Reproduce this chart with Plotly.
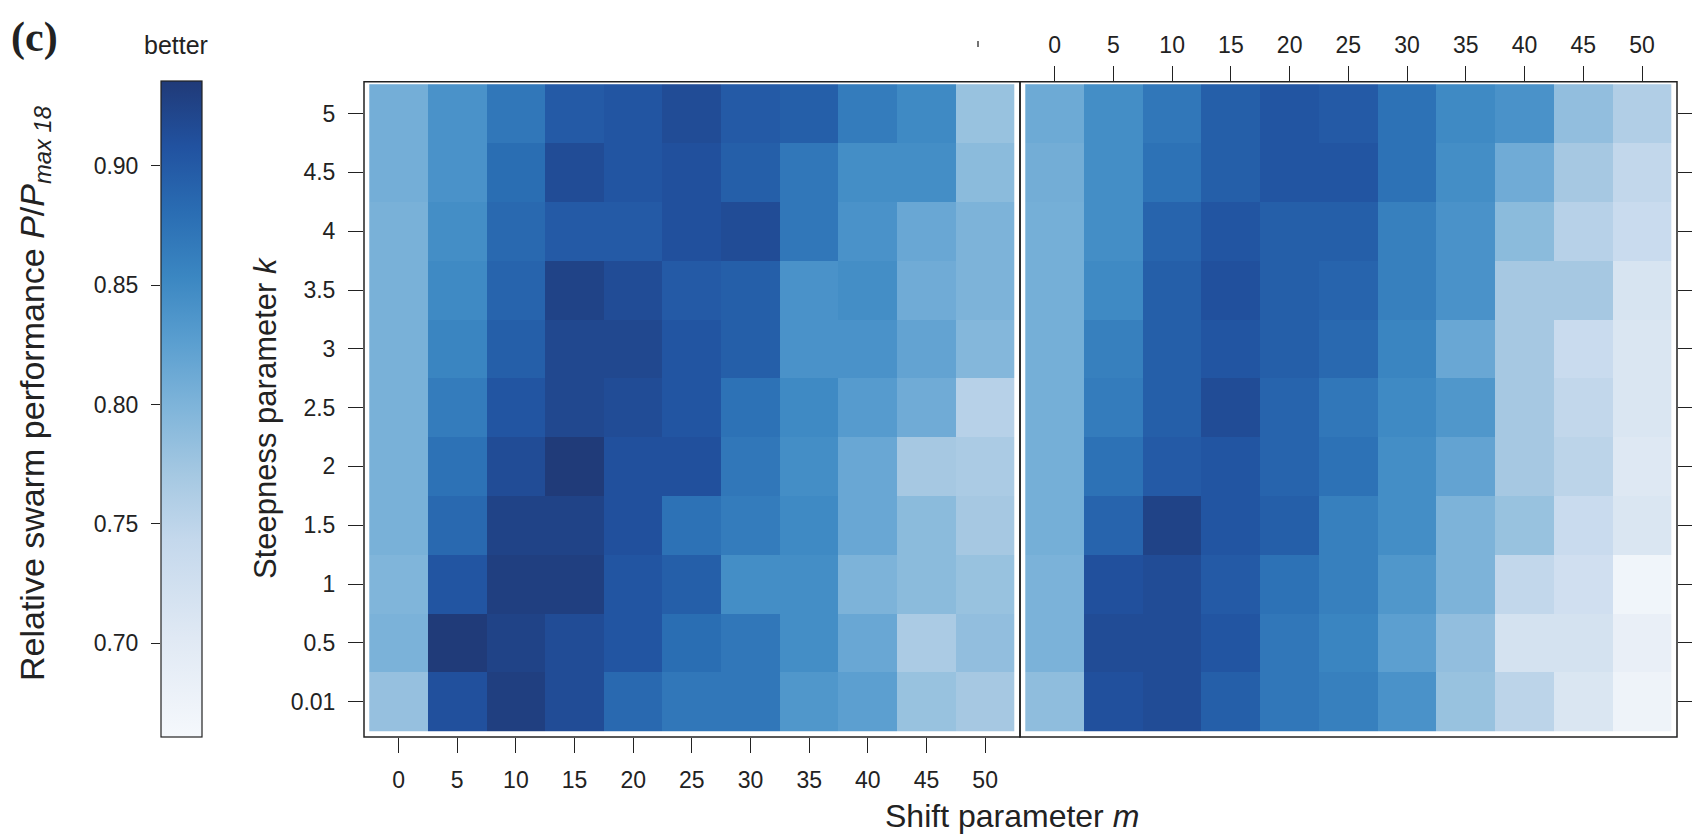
import plotly.graph_objects as go

W, H = 1692, 839

m_values = [0, 5, 10, 15, 20, 25, 30, 35, 40, 45, 50]
k_labels = ["0.01", "0.5", "1", "1.5", "2", "2.5", "3", "3.5", "4", "4.5", "5"]
k_index = list(range(len(k_labels)))

# rows: k = 0.01 (bottom) ... 5 (top); columns: m = 0 ... 50
left_k001 = [0.782, 0.910, 0.930, 0.915, 0.885, 0.870, 0.870, 0.835, 0.825, 0.780, 0.770]
left_k05  = [0.802, 0.935, 0.925, 0.915, 0.905, 0.880, 0.870, 0.845, 0.815, 0.765, 0.785]
left_k1   = [0.798, 0.905, 0.930, 0.930, 0.905, 0.895, 0.845, 0.845, 0.800, 0.790, 0.780]
left_k15  = [0.803, 0.885, 0.925, 0.925, 0.910, 0.875, 0.865, 0.850, 0.815, 0.790, 0.770]
left_k2   = [0.803, 0.875, 0.915, 0.935, 0.910, 0.910, 0.870, 0.845, 0.815, 0.770, 0.765]
left_k25  = [0.803, 0.865, 0.905, 0.920, 0.915, 0.905, 0.875, 0.850, 0.830, 0.810, 0.755]
left_k3   = [0.803, 0.855, 0.895, 0.920, 0.920, 0.905, 0.895, 0.840, 0.840, 0.820, 0.795]
left_k35  = [0.803, 0.850, 0.890, 0.925, 0.915, 0.900, 0.895, 0.840, 0.845, 0.810, 0.800]
left_k4   = [0.803, 0.845, 0.885, 0.900, 0.900, 0.910, 0.915, 0.870, 0.840, 0.815, 0.800]
left_k45  = [0.807, 0.840, 0.880, 0.915, 0.905, 0.910, 0.895, 0.870, 0.845, 0.845, 0.790]
left_k5   = [0.807, 0.840, 0.870, 0.900, 0.905, 0.915, 0.900, 0.895, 0.865, 0.850, 0.780]

right_k001 = [0.787, 0.910, 0.915, 0.895, 0.870, 0.860, 0.840, 0.780, 0.750, 0.710, 0.675]
right_k05  = [0.802, 0.915, 0.915, 0.905, 0.870, 0.855, 0.825, 0.785, 0.720, 0.720, 0.685]
right_k1   = [0.802, 0.910, 0.915, 0.900, 0.875, 0.860, 0.835, 0.800, 0.745, 0.725, 0.670]
right_k15  = [0.806, 0.890, 0.925, 0.905, 0.895, 0.860, 0.845, 0.800, 0.780, 0.735, 0.710]
right_k2   = [0.806, 0.875, 0.900, 0.905, 0.890, 0.875, 0.845, 0.820, 0.770, 0.750, 0.705]
right_k25  = [0.806, 0.865, 0.895, 0.915, 0.890, 0.870, 0.850, 0.835, 0.770, 0.745, 0.710]
right_k3   = [0.806, 0.860, 0.895, 0.905, 0.895, 0.885, 0.855, 0.815, 0.770, 0.735, 0.710]
right_k35  = [0.806, 0.850, 0.895, 0.910, 0.895, 0.890, 0.860, 0.840, 0.770, 0.770, 0.715]
right_k4   = [0.806, 0.845, 0.890, 0.905, 0.895, 0.895, 0.860, 0.840, 0.790, 0.755, 0.735]
right_k45  = [0.808, 0.845, 0.875, 0.895, 0.905, 0.905, 0.875, 0.845, 0.810, 0.770, 0.745]
right_k5   = [0.812, 0.845, 0.870, 0.895, 0.905, 0.900, 0.875, 0.850, 0.840, 0.785, 0.760]

left_z = [left_k001, left_k05, left_k1, left_k15, left_k2, left_k25,
          left_k3, left_k35, left_k4, left_k45, left_k5]
right_z = [right_k001, right_k05, right_k1, right_k15, right_k2, right_k25,
           right_k3, right_k35, right_k4, right_k45, right_k5]

cbar_ticks = [0.70, 0.75, 0.80, 0.85, 0.90]
z_min, z_max = 0.6606, 0.9356

blues = [
    [0.00, "#f5f8fc"],
    [0.15, "#e0e9f4"],
    [0.30, "#c4d8ec"],
    [0.40, "#a5c8e2"],
    [0.50, "#80b5da"],
    [0.60, "#5b9fd0"],
    [0.70, "#3b87c2"],
    [0.80, "#2a6db3"],
    [0.90, "#2152a0"],
    [1.00, "#203a78"],
]

def px(x):
    return x / W

def py(y):
    return 1 - y / H

FONT = "Liberation Sans, Arial, Helvetica, sans-serif"
TXT = "#222222"
TICK_SIZE = 23

left_dom = [px(364), px(1020)]
right_dom = [px(1020), px(1677)]
y_dom = [py(737), py(81.7)]
x_range = [-2.95, 52.97]
y_range = [-0.602, 10.543]

fig = go.Figure()
fig.add_trace(go.Heatmap(z=left_z, x=m_values, y=k_index, coloraxis="coloraxis",
                         xaxis="x", yaxis="y", hoverinfo="skip"))
fig.add_trace(go.Heatmap(z=right_z, x=m_values, y=k_index, coloraxis="coloraxis",
                         xaxis="x2", yaxis="y2", hoverinfo="skip"))
# invisible anchor trace for the colour-key axis
fig.add_trace(go.Scatter(x=[0], y=[cbar_ticks[2]], xaxis="x5", yaxis="y5",
                         mode="markers", marker=dict(opacity=0), showlegend=False,
                         hoverinfo="skip"))

tick_common = dict(ticks="outside", ticklen=15, tickwidth=1.2, tickcolor="#222",
                   showgrid=False, zeroline=False, showline=False,
                   tickfont=dict(family=FONT, size=TICK_SIZE, color=TXT))

fig.update_layout(
    width=W, height=H,
    margin=dict(l=0, r=0, t=0, b=0),
    paper_bgcolor="white", plot_bgcolor="white",
    showlegend=False,
    coloraxis=dict(
        colorscale=blues, cmin=z_min, cmax=z_max,
        colorbar=dict(
            x=px(161), xanchor="left", y=py(81), yanchor="top",
            thicknessmode="pixels", thickness=41,
            lenmode="pixels", len=656,
            xpad=0, ypad=0, outlinewidth=1.2, outlinecolor="#222",
            showticklabels=False, ticks="",
        ),
    ),
    xaxis=dict(domain=left_dom, anchor="y", side="bottom", range=x_range,
               tickvals=m_values, ticktext=[str(v) for v in m_values],
               ticklabelstandoff=7, **tick_common),
    xaxis3=dict(overlaying="x", anchor="y", side="top", range=x_range,
                tickvals=m_values, showticklabels=False, **tick_common),
    xaxis2=dict(domain=right_dom, anchor="y2", side="top", range=x_range,
                tickvals=m_values, ticktext=[str(v) for v in m_values],
                ticklabelstandoff=4, **tick_common),
    xaxis4=dict(overlaying="x2", anchor="y2", side="bottom", range=x_range,
                tickvals=m_values, showticklabels=False, **tick_common),
    yaxis=dict(domain=y_dom, anchor="x", side="left", range=y_range,
               tickvals=k_index, ticktext=k_labels, ticklabelstandoff=8, **tick_common),
    yaxis2=dict(domain=y_dom, anchor="x2", side="right", range=y_range,
                tickvals=k_index, showticklabels=False, **tick_common),
    xaxis5=dict(domain=[px(161), px(202)], anchor="y5", visible=False, range=[-1, 1]),
    yaxis5=dict(domain=[py(737), py(81)], anchor="x5", side="left",
                range=[z_min, z_max], tickvals=cbar_ticks,
                ticktext=[f"{v:.2f}" for v in cbar_ticks],
                ticks="outside", ticklen=9, tickwidth=1.2, tickcolor="#222",
                showgrid=False, zeroline=False, showline=False,
                ticklabelstandoff=8,
                tickfont=dict(family=FONT, size=TICK_SIZE, color=TXT)),
)

# panel frames
frame = dict(type="rect", xref="paper", yref="paper",
             line=dict(color="#222", width=1.5), fillcolor="rgba(0,0,0,0)")
fig.add_shape(x0=left_dom[0], x1=left_dom[1], y0=y_dom[0], y1=y_dom[1], **frame)
fig.add_shape(x0=right_dom[0], x1=right_dom[1], y0=y_dom[0], y1=y_dom[1], **frame)
# small stray mark at the top
fig.add_shape(type="line", xref="paper", yref="paper", x0=px(978), x1=px(978),
              y0=py(41), y1=py(47), line=dict(color="#444", width=1.5))

annots = [
    dict(text="<b>(c)</b>", x=px(34), y=py(38),
         font=dict(family="Liberation Serif, Times New Roman, serif", size=42, color=TXT)),
    dict(text="better", x=px(176), y=py(45), font=dict(family=FONT, size=25, color=TXT)),
    dict(text="Relative swarm performance <i>P</i>/<i>P</i><sub><i>max 18</i></sub>",
         x=px(34), y=py(393), textangle=-90, font=dict(family=FONT, size=34, color=TXT)),
    dict(text="Steepness parameter <i>k</i>", x=px(265), y=py(418), textangle=-90,
         font=dict(family=FONT, size=31, color=TXT)),
    dict(text="Shift parameter <i>m</i>", x=px(1012), y=py(816),
         font=dict(family=FONT, size=32, color=TXT)),
]
for a in annots:
    fig.add_annotation(xref="paper", yref="paper", showarrow=False,
                       xanchor="center", yanchor="middle", **a)

fig.write_html("out.html")
